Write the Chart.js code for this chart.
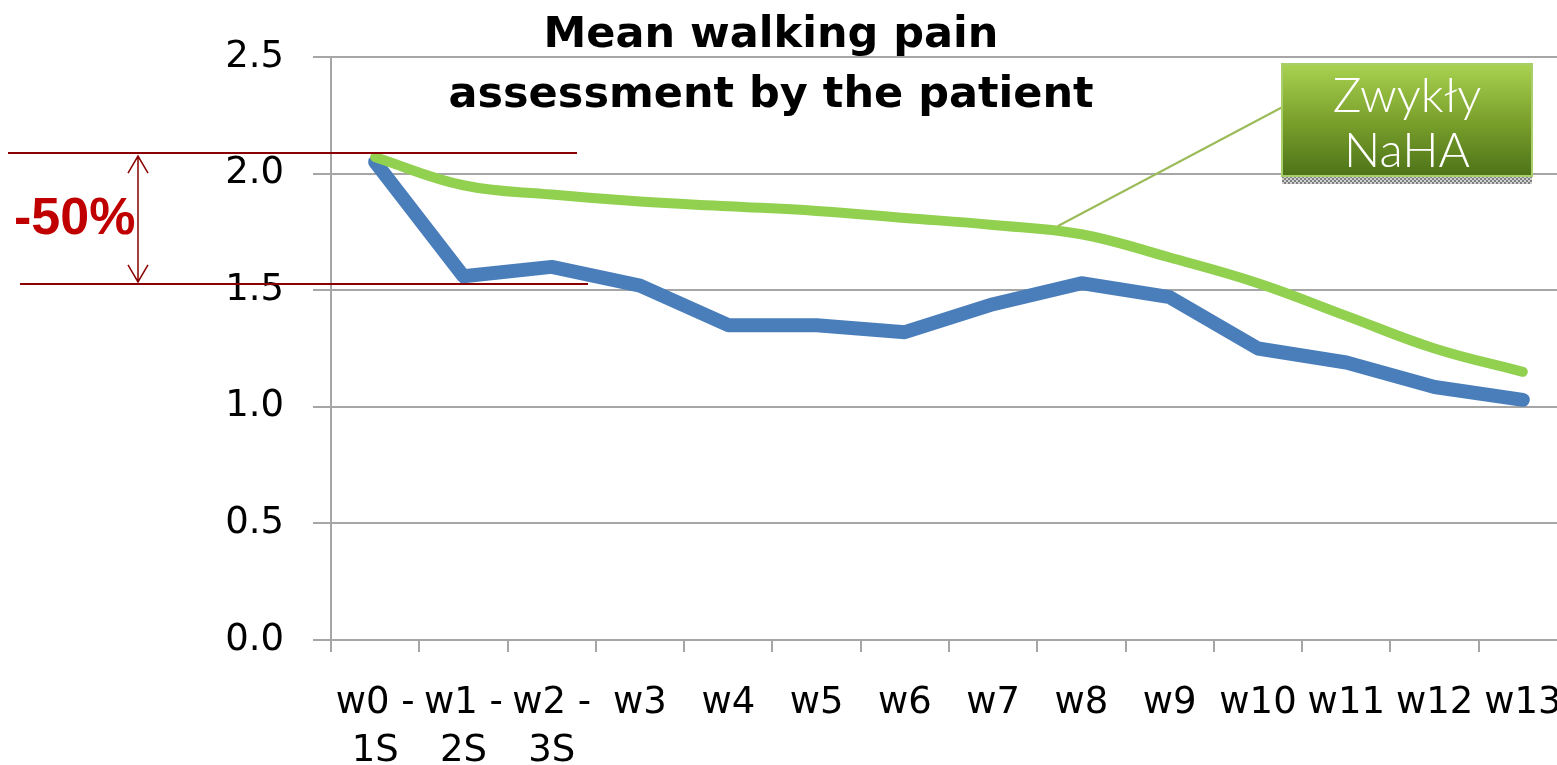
<!DOCTYPE html>
<html>
<head>
<meta charset="utf-8">
<script src="https://cdn.jsdelivr.net/npm/chart.js@4/dist/chart.umd.min.js"></script>
<style>
  html, body { margin: 0; padding: 0; background: #fff; overflow: hidden; }
  #wrap { width: 1567px; height: 765px; }
</style>
</head>
<body>
<div id="wrap"><canvas id="painChart" width="1567" height="765"></canvas></div>
<script>
const weeks = [['w0 -', '1S'], ['w1 -', '2S'], ['w2 -', '3S'], 'w3', 'w4', 'w5', 'w6', 'w7', 'w8', 'w9', 'w10', 'w11', 'w12', 'w13']
const nahaPlain = [2.07, 1.95, 1.91, 1.88, 1.86, 1.84, 1.81, 1.78, 1.74, 1.64, 1.53, 1.39, 1.25, 1.15]
const nahaOther = [2.05, 1.56, 1.60, 1.52, 1.35, 1.35, 1.32, 1.44, 1.53, 1.47, 1.25, 1.19, 1.085, 1.03]
const yMin = 0
const yMax = 2.5
const yStep = 0.5

const titleLines = ['Mean walking pain', 'assessment by the patient']
const dropLabel = '-50%'
const dropFrom = 2.088
const dropTo = 1.527
const boxLines = ['Zwykły', 'NaHA']

const FONT = '"DejaVu Sans", Verdana, sans-serif'

// title, -50% bracket and the green callout box
const decorations = {
  id: 'decorations',
  afterDraw(chart) {
    const ctx = chart.ctx
    const y = chart.scales.y
    ctx.save()

    ctx.fillStyle = '#000'
    ctx.font = `bold 43px ${FONT}`
    ctx.textAlign = 'center'
    ctx.textBaseline = 'alphabetic'
    ctx.fillText(titleLines[0], 771, 47)
    ctx.fillText(titleLines[1], 771, 107)

    const yTop = y.getPixelForValue(dropFrom)
    const yBot = y.getPixelForValue(dropTo)
    ctx.strokeStyle = '#8b0000'
    ctx.lineWidth = 2
    ctx.beginPath()
    ctx.moveTo(8, yTop); ctx.lineTo(577, yTop)
    ctx.moveTo(20, yBot); ctx.lineTo(588, yBot)
    ctx.stroke()

    ctx.lineWidth = 1.5
    ctx.beginPath()
    ctx.moveTo(138, yTop + 3); ctx.lineTo(138, yBot - 2)
    ctx.moveTo(128, yTop + 20); ctx.lineTo(138, yTop + 3); ctx.lineTo(148, yTop + 20)
    ctx.moveTo(128, yBot - 19); ctx.lineTo(138, yBot - 2); ctx.lineTo(148, yBot - 19)
    ctx.stroke()

    ctx.fillStyle = '#c00000'
    ctx.font = 'bold 52px "Liberation Sans", Arial, sans-serif'
    ctx.textAlign = 'left'
    ctx.fillText(dropLabel, 14, 234)

    // callout connector
    ctx.strokeStyle = '#9bbb59'
    ctx.lineWidth = 2
    ctx.beginPath()
    ctx.moveTo(1058, 226)
    ctx.lineTo(1326, 84)
    ctx.stroke()

    const bx = 1282, by = 64, bw = 250, bh = 112
    // dotted shadow strip under the box
    for (let x = bx; x < bx + bw; x += 2) {
      for (let yy = by + bh; yy < by + bh + 8; yy += 2) {
        ctx.fillStyle = ((x + yy) / 2) % 2 ? '#7f7f7f' : '#d0d0d0'
        ctx.fillRect(x, yy, 2, 2)
      }
    }
    const grad = ctx.createLinearGradient(0, by, 0, by + bh)
    grad.addColorStop(0, '#a9d251')
    grad.addColorStop(0.5, '#7ba12c')
    grad.addColorStop(1, '#4d7319')
    ctx.fillStyle = grad
    ctx.fillRect(bx, by, bw, bh)
    ctx.strokeStyle = '#a8cf6a'
    ctx.lineWidth = 2
    ctx.strokeRect(bx, by, bw, bh)

    ctx.fillStyle = '#fff'
    ctx.font = '300 48px Lato, "Open Sans", sans-serif'
    ctx.textAlign = 'center'
    ctx.fillText(boxLines[0], 1407, 112)
    ctx.fillText(boxLines[1], 1407, 167)

    ctx.restore()
  },
}

const painChart = new Chart(document.getElementById('painChart'), {
  type: 'line',
  data: {
    labels: weeks,
    datasets: [
      {
        label: 'Zwykły NaHA',
        data: nahaPlain,
        borderColor: '#92d050',
        borderWidth: 10,
        tension: 0.4,
        pointRadius: 0,
        borderCapStyle: 'round',
        order: 1,
      },
      {
        label: 'NaHA',
        data: nahaOther,
        borderColor: '#4a7ebb',
        borderWidth: 14,
        tension: 0,
        pointRadius: 0,
        borderCapStyle: 'round',
        borderJoinStyle: 'round',
        order: 2,
      },
    ],
  },
  options: {
    responsive: false,
    devicePixelRatio: 1,
    animation: false,
    layout: { padding: { top: 57, right: 0, bottom: 0, left: 0 } },
    plugins: {
      legend: { display: false },
      tooltip: { enabled: false },
    },
    scales: {
      x: {
        offset: true,
        grid: {
          offset: true,
          drawOnChartArea: false,
          tickLength: 12,
          tickColor: '#a6a6a6',
          lineWidth: 2,
        },
        border: { color: '#a6a6a6', width: 2 },
        ticks: {
          autoSkip: false,
          maxRotation: 0,
          color: '#000',
          padding: 27,
          font: { family: FONT, size: 37, lineHeight: 1.3 },
        },
        afterFit: scale => {
          scale.height = 125
          scale.paddingLeft = 0
          scale.paddingRight = 0
        },
      },
      y: {
        min: yMin,
        max: yMax,
        grid: {
          color: '#a6a6a6',
          lineWidth: 2,
          tickLength: 18,
        },
        border: { color: '#a6a6a6', width: 2 },
        ticks: {
          stepSize: yStep,
          color: '#000',
          padding: 29,
          font: { family: FONT, size: 37 },
          callback: value => Number(value).toFixed(1),
        },
        afterFit: scale => {
          scale.width = 331
          scale.paddingTop = 0
          scale.paddingBottom = 0
        },
      },
    },
  },
  plugins: [decorations],
})
</script>
</body>
</html>
